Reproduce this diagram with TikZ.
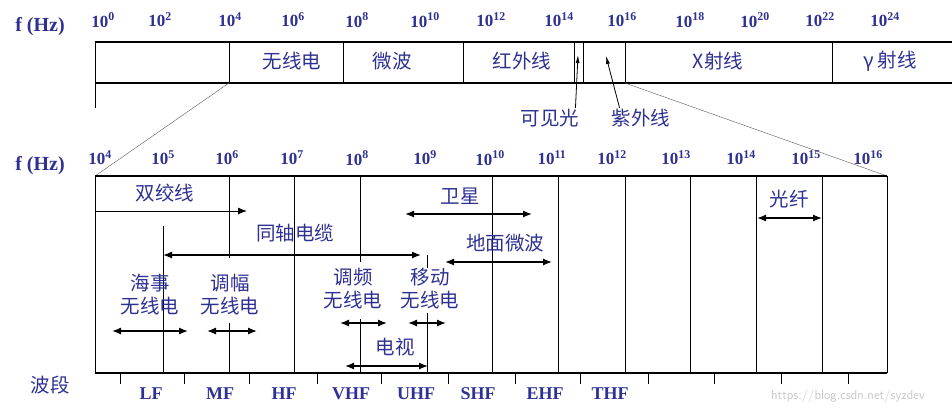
\documentclass[tikz,border=0pt]{standalone}
\usepackage{fontspec}
\setmainfont{Liberation Serif}
\newfontfamily\cjk{Noto Sans CJK SC}
\usetikzlibrary{arrows.meta}
\definecolor{navy}{HTML}{2E3192}
\begin{document}
\begin{tikzpicture}[x=1pt,y=-1pt,
  zh/.style={text=navy,font=\cjk\fontsize{19.5}{23}\selectfont,inner sep=0pt},
  ex/.style={text=navy,font=\bfseries\fontsize{17}{19}\selectfont,inner sep=0pt},
  bd/.style={text=navy,font=\bfseries\fontsize{18}{20}\selectfont,inner sep=0pt},
  thick2/.style={line width=2pt},
  thin1/.style={line width=1pt},
  dbl/.style={line width=1.3pt,{Latex[length=9pt,width=7pt]}-{Latex[length=9pt,width=7pt]}},
  sgl/.style={line width=1pt,-{Latex[length=9pt,width=7pt]}},
  pt/.style={line width=0.8pt,-{Latex[length=8pt,width=4pt]}},
  zoomline/.style={line width=0.4pt,gray!70!black}]
\useasboundingbox (0,0) rectangle (952,416);
% ---- top band
\node[bd,font=\bfseries\fontsize{20}{22}\selectfont] (f1) at (40,27) {f (Hz)};
\foreach \e/\x in {0/103,2/160,4/230,6/293,8/357,10/425,12/491,14/559,16/622,18/690,20/755,22/820,24/885}
  \node[ex] (t\e) at (\x,20) {10\textsuperscript{\e}};
\coordinate (tl) at (95,42); \coordinate (tr) at (952,42);
\coordinate (bl) at (95,83); \coordinate (br) at (952,83);
\draw[thick2] (tl) -- (tr);
\draw[thick2] (bl) -- (br);
\draw[thin1] (95,42) -- (95,108);
\foreach \x in {229,343,463,574,583,625,832} \draw[thin1] (\x,42) -- (\x,83);
\node[zh] (radio) at (292,61) {无线电};
\node[zh] (micro) at (392,61) {微波};
\node[zh] (ir) at (522,61) {红外线};
\node[zh] (xray) at (718,61) {X射线};
\node[zh] (gray) at (890,61) {γ 射线};
\node[zh] (vis) at (550,118) {可见光};
\node[zh] (uv) at (641,118) {紫外线};
\coordinate (visp) at (578,55); \coordinate (uvp) at (606,56);
\draw[pt] (vis.north east) ++(-4,-1) -- (visp);
\draw[pt] (uv.north west) ++(8,-1) -- (uvp);
% zoom lines
\coordinate (z1) at (229,83); \coordinate (z2) at (95,176);
\coordinate (z3) at (625,83); \coordinate (z4) at (887,176);
\draw[zoomline] (z1) -- (z2);
\draw[zoomline] (z3) -- (z4);
% ---- bottom chart
\node[bd,font=\bfseries\fontsize{20}{22}\selectfont] (f2) at (40,166) {f (Hz)};
\foreach \e/\x in {4/100,5/163,6/227,7/292,8/357,9/425,10/490,11/552,12/612,13/676,14/741,15/806,16/868}
  \node[ex] (b\e) at (\x,158) {10\textsuperscript{\e}};
\draw[thick2] (95,176) -- (887,176);
\draw[thick2] (95,373) -- (887,373);
\draw[thin1] (95,176) -- (95,373);
\draw[thin1] (887,176) -- (887,373);
\draw[thin1] (163,226) -- (163,373);
\draw[thin1] (229,176) -- (229,258); \draw[thin1] (229,323) -- (229,373);
\draw[thin1] (294,176) -- (294,373);
\draw[thin1] (360,176) -- (360,262); \draw[thin1] (360,319) -- (360,373);
\draw[thin1] (427,255) -- (427,268); \draw[thin1] (427,313) -- (427,373);
\foreach \x in {492,558,625,690,756,822} \draw[thin1] (\x,176) -- (\x,373);
% labels and arrows
\node[zh] (twist) at (165,193) {双绞线};
\coordinate (a1) at (95,211); \coordinate (a2) at (247,211);
\draw[sgl] (a1) -- (a2);
\node[zh] (sat) at (460,196) {卫星};
\coordinate (s1) at (405,214); \coordinate (s2) at (532,214);
\draw[dbl] (s1) -- (s2);
\node[zh] (fiber) at (789,199) {光纤};
\coordinate (o1) at (757,218); \coordinate (o2) at (822,218);
\draw[dbl] (o1) -- (o2);
\node[zh] (coax) at (295,233) {同轴电缆};
\coordinate (c1) at (163,255); \coordinate (c2) at (421,255);
\draw[dbl] (c1) -- (c2);
\node[zh] (ground) at (505,243) {地面微波};
\coordinate (g1) at (445,262); \coordinate (g2) at (552,262);
\draw[dbl] (g1) -- (g2);
\node[zh,align=center] (sea) at (150,295) {海事\\无线电};
\coordinate (h1) at (112,331); \coordinate (h2) at (188,331);
\draw[dbl] (h1) -- (h2);
\node[zh,align=center] (am) at (230,295) {调幅\\无线电};
\coordinate (m1) at (207,331); \coordinate (m2) at (257,331);
\draw[dbl] (m1) -- (m2);
\node[zh,align=center] (fm) at (353,289) {调频\\无线电};
\coordinate (fm1) at (340,323); \coordinate (fm2) at (387,323);
\draw[dbl] (fm1) -- (fm2);
\node[zh,align=center] (mob) at (430,289) {移动\\无线电};
\coordinate (mb1) at (408,323); \coordinate (mb2) at (446,323);
\draw[dbl] (mb1) -- (mb2);
\node[zh] (tv) at (395,347) {电视};
\coordinate (tv1) at (345,366); \coordinate (tv2) at (428,366);
\draw[dbl] (tv1) -- (tv2);
% band ticks
\foreach \x in {120,184,249,317,381,448,515,580,648,714,781,848} \draw[line width=0.6pt] (\x,374) -- (\x,384);
\node[zh] (band) at (50,385) {波段};
\foreach \n/\x in {LF/151,MF/220,HF/284,VHF/351,UHF/416,SHF/478,EHF/545,THF/610}
  \node[bd] (l\n) at (\x,394) {\n};
\node[text=gray!45,font=\sffamily\fontsize{13}{15}\selectfont,inner sep=0pt] (wm) at (848,396) {https://blog.csdn.net/syzdev};
\end{tikzpicture}
\end{document}
